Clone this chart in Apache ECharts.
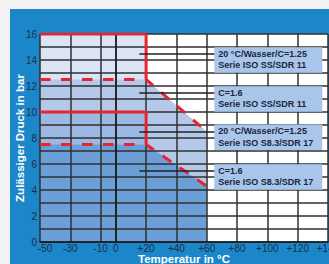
<!DOCTYPE html>
<html>
<head>
<meta charset="utf-8">
<script src="https://cdn.jsdelivr.net/npm/echarts@6/dist/echarts.min.js"></script>
<style>
  html,
  body {
    margin: 0;
    padding: 0;
    background: #f3f3f3;
  }
  #druck-chart {
    width: 329px;
    height: 264px;
  }
</style>
</head>
<body>
<div id="druck-chart"></div>
<script>
// Temperatur-Ticks (x) und Druckbereich (y)
const tempTicks = [-50, -30, -10, 0, 20, 40, 60, 80, 100, 120, 140];
const druckMin = 0;
const druckMax = 16;

// Grenzkurven [Temperatur, Druck]
const sdr11C125 = [[-50, 16], [20, 16], [20, 12.5]];
const sdr11C16 = [[-50, 12.5], [20, 12.5], [60, 8.5]];
const sdr17C125 = [[-50, 10], [20, 10], [20, 7.5]];
const sdr17C16 = [[-50, 7.5], [20, 7.5], [60, 4.3]];

// Hinweislinien zu den Beschriftungen
const leaderY = [14.45, 11.45, 8.5, 5.45];
const leaderX = [15.5, 65];
const labelTexts = [
  "20 °C/Wasser/C=1.25\nSerie ISO SS/SDR 11",
  "C=1.6\nSerie ISO SS/SDR 11",
  "20 °C/Wasser/C=1.25\nSerie ISO S8.3/SDR 17",
  "C=1.6\nSerie ISO S8.3/SDR 17",
];

const font = '"Liberation Sans", Arial, sans-serif';
const red = "#e8242c";
const tickColor = "#1e2d4d";
const gridColor = "#2f2f2f";

const curves = [
  { data: sdr11C125, fill: "#dbe4f5", dashed: false },
  { data: sdr11C16, fill: "#b4c9ea", dashed: true },
  { data: sdr17C125, fill: "#9bb9e3", dashed: false },
  { data: sdr17C16, fill: "#6c9fd8", dashed: true },
];

let series = [];
// Flächen zuerst (unter dem Raster)
curves.forEach((c) => {
  series.push({
    type: "line",
    data: c.data,
    z: 1,
    symbol: "none",
    silent: true,
    lineStyle: { width: 0 },
    areaStyle: { color: c.fill, opacity: 1 },
  });
});
// rote Linien oben drauf
curves.forEach((c) => {
  series.push({
    type: "line",
    data: c.data,
    z: 4,
    symbol: "none",
    silent: true,
    lineStyle: {
      color: red,
      width: 3,
      type: c.dashed ? [10.5, 10.5] : "solid",
    },
  });
});
// Hinweislinien
series.push({
  type: "line",
  data: [],
  z: 3,
  markLine: {
    symbol: "none",
    silent: true,
    label: { show: false },
    lineStyle: { color: "#222", width: 1.5, type: "solid" },
    data: leaderY.map((y) => [{ coord: [leaderX[0], y] }, { coord: [leaderX[1], y] }]),
  },
});

let myChart = echarts.init(document.getElementById("druck-chart"), null, { renderer: "svg" });
myChart.setOption({
  animation: false,
  graphic: [
    {
      id: "panel",
      type: "rect",
      left: 10,
      top: 9,
      z: -10,
      silent: true,
      shape: { width: 319, height: 255 },
      style: { fill: "#1b87c8" },
    },
  ],
  grid: {
    left: 40,
    top: 34,
    width: 288,
    height: 208,
    outerBoundsMode: "none",
    containLabel: false,
    show: true,
    backgroundColor: "#fff",
    borderWidth: 0,
  },
  xAxis: {
    type: "value",
    min: -50,
    max: 140,
    z: 2,
    name: "Temperatur in °C",
    nameLocation: "middle",
    nameGap: 11,
    nameMoveOverlap: false,
    nameTextStyle: { color: "#fff", fontWeight: "bold", fontSize: 11.5, lineHeight: 11, fontFamily: font },
    axisLine: { show: true, onZero: false, lineStyle: { color: "#1a1a1a", width: 1.5 } },
    axisTick: { show: false, customValues: tempTicks },
    axisLabel: {
      customValues: tempTicks,
      margin: 1.5,
      color: tickColor,
      fontSize: 10,
      lineHeight: 10,
      fontFamily: font,
      hideOverlap: false,
      formatter: (v) => (v === -50 ? "{first|-50}" : v > 0 ? "+" + v : String(v)),
      rich: { first: { padding: [0, 0, 0, 10], color: tickColor, fontSize: 10, lineHeight: 10, fontFamily: font } },
    },
    splitLine: { show: true, customValues: tempTicks, lineStyle: { color: gridColor, width: 1.5 } },
  },
  yAxis: {
    type: "value",
    min: druckMin,
    max: druckMax,
    interval: 1,
    z: 2,
    name: "Zulässiger Druck in bar",
    nameLocation: "middle",
    nameGap: 14,
    nameMoveOverlap: false,
    nameTextStyle: { color: "#fff", fontWeight: "bold", fontSize: 11.5, fontFamily: font },
    axisLine: { show: true, lineStyle: { color: "#1a1a1a", width: 1.5 } },
    axisTick: { show: false },
    axisLabel: {
      margin: 3,
      color: tickColor,
      fontSize: 10,
      fontFamily: font,
      formatter: (v) => (v % 2 === 0 ? String(v) : ""),
    },
    splitLine: { show: true, lineStyle: { color: gridColor, width: 1.5 } },
  },
  series: series,
});

// Beschriftungskästen am Ende der Hinweislinien
let boxes = [];
leaderY.forEach((y, i) => {
  const p = myChart.convertToPixel({ gridIndex: 0 }, [leaderX[1], y]);
  const top = p[1] - 7;
  boxes.push({
    id: "box" + i,
    type: "rect",
    left: p[0],
    top: top,
    z: 5,
    silent: true,
    shape: { width: 108, height: 25.5 },
    style: { fill: "#a9c5ea" },
  });
  boxes.push({
    id: "txt" + i,
    type: "text",
    left: p[0] + 4,
    top: top + 1,
    z: 6,
    silent: true,
    style: {
      text: labelTexts[i],
      fill: "#1a2540",
      font: "bold 9px " + font,
      lineHeight: 11.5,
    },
  });
});
myChart.setOption({ graphic: boxes });
</script>
</body>
</html>
